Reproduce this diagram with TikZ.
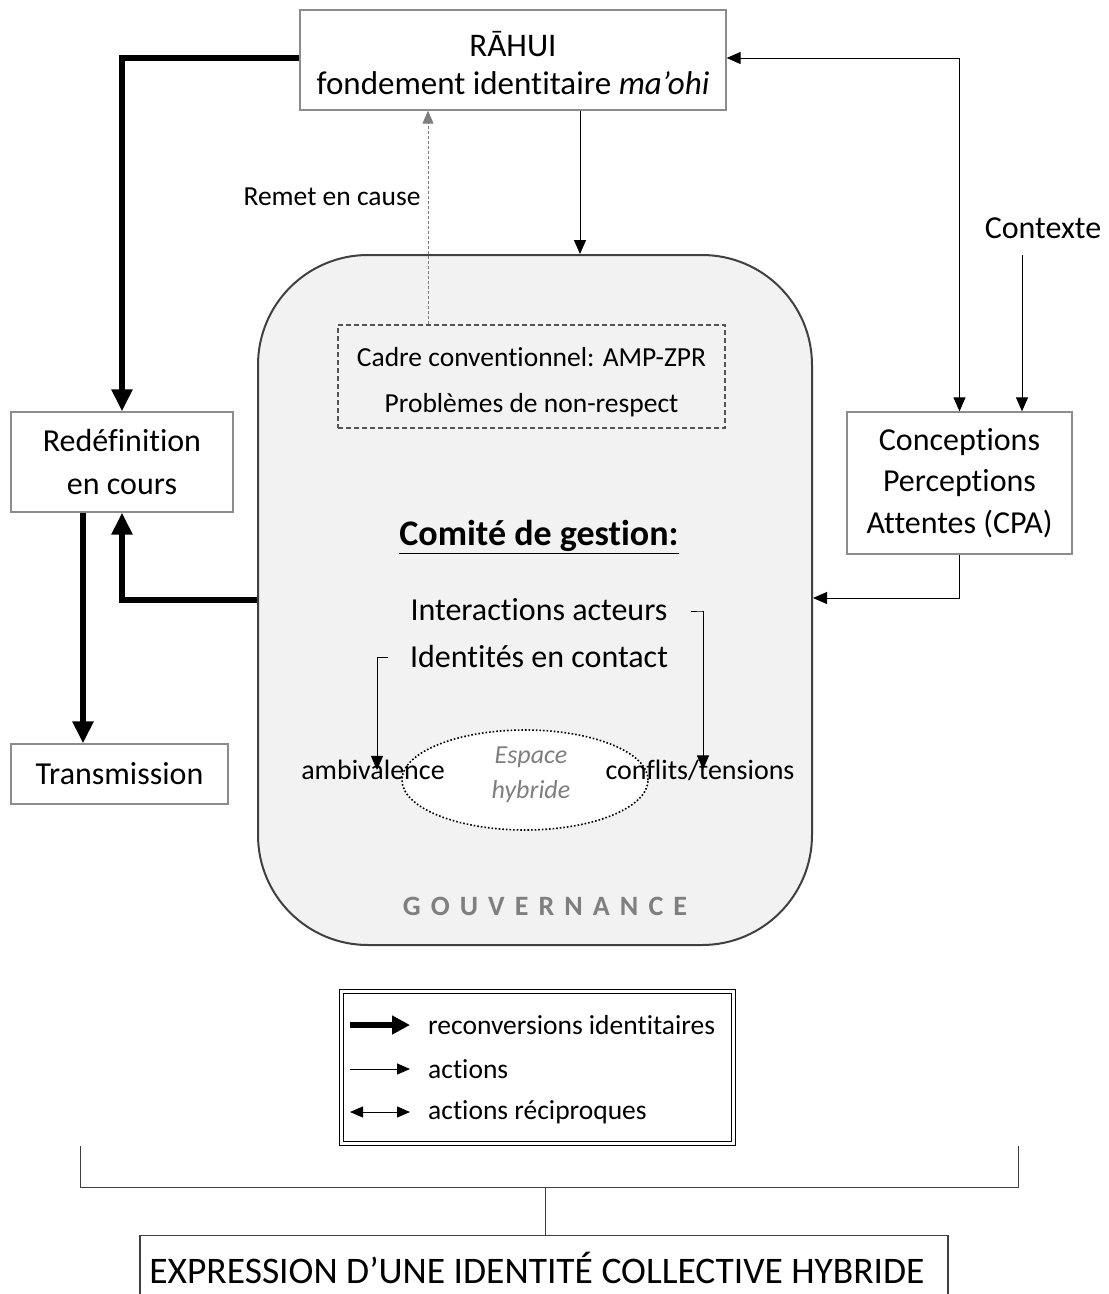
\documentclass[tikz,border=0pt]{standalone}
\usepackage{fontspec}
\setmainfont{Carlito}[Ligatures=NoCommon]
\usetikzlibrary{arrows.meta,calc,shapes.geometric}
\definecolor{boxgray}{HTML}{8C8C8C}
\definecolor{govfill}{HTML}{F2F2F2}
\definecolor{govline}{HTML}{404040}
\definecolor{txtgray}{HTML}{7F7F7F}
\begin{document}
\begin{tikzpicture}[x=1pt,y=-1pt,
  plainbox/.style={draw=boxgray,line width=1.3pt,fill=white,align=center,inner sep=0pt},
  thin/.style={line width=1pt,-{Triangle[width=12pt,length=14pt]}},
  thick/.style={line width=6.5pt,-{Triangle[width=20pt,length=22pt]}},
  fs/.style={font=\fontsize{#1}{#1}\selectfont},
  fsb/.style 2 args={font=\fontsize{#1}{#2}\selectfont}
]
\useasboundingbox (0,0) rectangle (1109,1294);

% governance block
\node[draw=govline,fill=govfill,line width=2pt,rounded corners=110pt,minimum width=554pt,minimum height=690pt,inner sep=0pt] (gouv) at (535,600) {};

\node[plainbox,minimum width=426pt,minimum height=100pt] (rahui) at (513,60) {};
\node[fsb={33}{38},align=center] (rahuit) at (513,63) {RĀHUI\\ fondement identitaire \textit{ma'ohi}};
\node[plainbox,minimum width=222pt,minimum height=100pt,fsb={32}{43}] (redef) at (122,462) {Redéfinition\\ en cours};
\node[plainbox,minimum width=217pt,minimum height=60pt,fs=32] (trans) at (119.5,774) {Transmission};
\node[plainbox,minimum width=225pt,minimum height=142pt,fsb={32}{41.5}] (cpa) at (959.5,483) {Conceptions\\ Perceptions\\ Attentes (CPA)};
\node[draw=govline!90,line width=1.3pt,dash pattern=on 5pt off 3pt,fill=govfill,minimum width=387pt,minimum height=103pt,inner sep=0pt] (cadre) at (531.5,376.5) {};
\node[fsb={27.5}{46},align=center] (cadret) at (531.5,382) {Cadre conventionnel: AMP-ZPR\\ Problèmes de non-respect};

\node[fs=27.5] (remet) at (332,197) {Remet en cause};
\node[fs=32,inner sep=0pt,minimum height=54pt] (ctx) at (1043,228) {Contexte};

\node[fs=36] (comite) at (539,537) {\textbf{\underline{Comité de gestion:}}};
\node[fs=32] (inter) at (539,610) {Interactions acteurs};
\node[fs=32] (ident) at (539,656) {Identités en contact};

\node[draw,dotted,line width=1.6pt,fill=white,ellipse,minimum width=246pt,minimum height=100pt] (esp) at (525,780) {};
\node[fsb={26}{35},text=txtgray,align=center] (espt) at (531,775) {\itshape Espace\\ \itshape hybride};
\node[fs=28,inner sep=2pt] (amb) at (373,770) {ambivalence};
\node[fs=28,inner sep=2pt] (conf) at (700,770) {conflits/tensions};
\node[text=txtgray,fs=28] (gov) at (545,906) {\addfontfeatures{LetterSpace=36}\bfseries GOUVERNANCE};

% connectors
\draw[thick] ([yshift=2pt]rahui.west) -| (redef.north);
\draw[thick] (gouv.west) -| (redef.south);
\draw[thick] ([xshift=-39pt]redef.south) -- ([xshift=-39pt]redef.south |- trans.north);
\draw[thin] ([xshift=67pt]rahui.south) -- ([xshift=67pt]rahui.south |- gouv.north);
\draw[line width=0.9pt,draw=txtgray,dash pattern=on 3pt off 2pt,-{Triangle[width=11pt,length=13pt]},txtgray] ([xshift=-103.5pt]cadre.north) -- ([xshift=-103.5pt]cadre.north |- rahui.south);
\draw[line width=1pt,{Triangle[width=12pt,length=14pt]}-{Triangle[width=12pt,length=14pt]}] ([yshift=2pt]rahui.east) -| (cpa.north);
\draw[thin] ([xshift=-21pt]ctx.south) -- ([xshift=-21pt]ctx.south |- cpa.north);
\draw[thin] (cpa.south) |- ([yshift=2pt]gouv.east);
\draw[thin] ([xshift=20pt,yshift=-1pt]inter.east) -- ++(11pt,0) -| ([xshift=3pt,yshift=-12pt]conf.north);
\draw[thin] ([xshift=-18pt,yshift=-1pt]ident.west) -- ++(-11pt,0) -| ([xshift=4pt,yshift=-12pt]amb.north);

% legend
\node[draw,double,line width=1.2pt,double distance=2.6pt,minimum width=392pt,minimum height=152pt,inner sep=0pt] (legend) at (537.5,1067.5) {};
\coordinate (l1) at (350,1025);
\coordinate (l2) at (350,1069);
\coordinate (l3) at (350,1112);
\draw[line width=6.5pt,-{Triangle[width=18pt,length=18pt]}] (l1) -- ++(60,0);
\draw[line width=1pt,-{Triangle[width=11pt,length=13pt]}] (l2) -- ++(60,0);
\draw[line width=1pt,{Triangle[width=11pt,length=13pt]}-{Triangle[width=11pt,length=13pt]}] (l3) -- ++(60,0);
\node[fs=27.5,anchor=west,inner sep=0pt] (t1) at (428,1025) {reconversions identitaires};
\node[fs=27.5,anchor=west,inner sep=0pt] (t2) at (428,1069) {actions};
\node[fs=27.5,anchor=west,inner sep=0pt] (t3) at (428,1112) {actions réciproques};

% bottom bracket
\node[plainbox,draw=govline,line width=1.3pt,minimum width=808pt,minimum height=100pt,anchor=north] (final) at (544,1235) {};
\node[fs=37.5] (finalt) at (537,1268) {EXPRESSION D’UNE IDENTITÉ COLLECTIVE HYBRIDE};
\coordinate (bl) at (80,1146);
\coordinate (br) at (1018,1146);
\coordinate (bm) at (545,1187);
\draw[line width=1pt,govline] (bl) |- (bm) -| (br);
\draw[line width=1pt,govline] (bm) -- (bm |- final.north);
\end{tikzpicture}
\end{document}
